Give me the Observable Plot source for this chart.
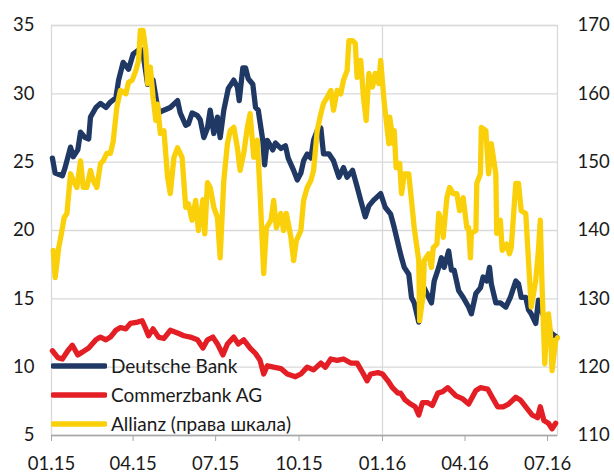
<!DOCTYPE html>
<html><head><meta charset="utf-8">
<script src="https://cdn.jsdelivr.net/npm/d3@7"></script>
<script src="https://cdn.jsdelivr.net/npm/@observablehq/plot@0.6"></script>
<style>
body{margin:0;background:#fff;font-family:Lato,sans-serif;}
#wrap{position:relative;width:614px;height:473px;}
#legend{position:absolute;left:51px;top:351px;font:19px Lato,sans-serif;color:#1a1a1a;}
#legend .row{display:flex;align-items:center;height:29px;}
#legend svg{margin-right:4px;}
</style></head>
<body><div id="wrap"><div id="legend"></div></div>
<script>
// Series: [days since 2015-01-01, value]
const deutscheBank = [[1,25.3],[4,24.2],[12,24.0],[15,24.6],[21,26.1],[24,25.4],[29,25.9],[32,27.2],[37,26.8],[41,26.7],[43,28.3],[49,29.0],[54,29.3],[60,29.0],[65,29.4],[71,29.7],[74,31.0],[79,32.3],[85,31.8],[90,32.9],[98,33.3],[101,32.9],[106,30.7],[112,31.0],[118,28.6],[124,28.8],[131,29.0],[139,29.5],[142,28.6],[148,27.7],[151,27.8],[155,28.6],[161,28.4],[164,28.1],[168,26.8],[172,27.5],[175,28.8],[179,27.1],[183,28.3],[186,26.8],[190,28.8],[195,30.4],[201,31.0],[205,30.5],[207,29.5],[211,31.9],[214,31.9],[217,31.1],[222,30.7],[225,29.0],[228,28.8],[233,26.6],[235,24.8],[238,26.6],[244,25.9],[247,26.4],[253,26.0],[258,26.2],[261,25.3],[267,24.4],[271,23.7],[275,24.2],[278,25.1],[282,25.6],[286,25.3],[289,26.6],[293,27.3],[297,27.5],[300,25.6],[306,25.6],[311,25.1],[317,23.9],[322,24.6],[326,23.9],[332,24.4],[337,23.2],[341,22.2],[346,21.0],[350,21.8],[355,22.2],[363,22.7],[368,21.7],[374,21.2],[378,20.2],[383,18.8],[386,18.0],[389,17.3],[394,16.8],[397,15.1],[400,14.7],[405,13.3],[408,15.6],[411,15.8],[416,15.1],[419,14.7],[422,16.3],[427,17.3],[430,18.0],[433,17.3],[438,18.5],[441,17.1],[444,17.1],[449,15.6],[454,15.1],[460,14.4],[463,13.9],[468,15.4],[473,15.8],[476,16.6],[480,16.3],[483,17.3],[485,16.1],[490,14.7],[495,14.7],[501,14.4],[506,15.1],[512,16.3],[515,16.1],[518,15.1],[523,15.1],[526,14.2],[529,13.9],[534,13.2],[537,14.9],[540,14.2],[545,13.4],[548,12.9],[551,12.5],[557,12.2]];
const commerzbank = [[1,11.2],[7,10.7],[12,10.6],[18,11.2],[23,11.6],[29,10.9],[34,11.1],[41,11.4],[49,12.0],[54,12.2],[60,12.0],[65,12.2],[71,12.7],[76,12.9],[82,12.8],[87,13.2],[95,13.3],[100,13.4],[104,12.8],[107,12.3],[112,12.8],[118,12.2],[124,12.1],[131,12.7],[139,12.5],[146,12.3],[153,12.2],[161,12.0],[167,11.4],[172,12.0],[178,12.2],[183,11.7],[189,10.9],[194,11.7],[201,12.2],[206,11.7],[212,12.0],[219,11.4],[225,11.0],[230,10.5],[234,9.5],[238,10.1],[245,10.0],[253,9.9],[260,9.5],[269,9.3],[275,9.5],[282,10.0],[289,9.8],[297,10.3],[302,10.0],[308,10.6],[315,10.5],[322,10.6],[330,10.3],[337,10.3],[344,9.5],[348,9.0],[352,9.5],[360,9.6],[365,9.5],[371,9.0],[376,8.5],[382,8.1],[385,8.1],[390,7.6],[396,7.3],[401,7.1],[405,6.5],[409,7.4],[415,7.4],[420,7.2],[426,8.1],[431,8.2],[437,8.5],[440,8.3],[446,7.9],[453,7.7],[460,7.3],[468,8.3],[473,8.5],[481,8.4],[486,7.8],[492,7.1],[498,7.1],[504,7.3],[512,7.8],[517,7.6],[523,7.1],[530,6.5],[536,6.3],[539,7.1],[543,6.1],[548,5.9],[552,5.5],[556,5.9]];
// Allianz, right scale (110–170)
const allianz = [[2,137.1],[4,133.1],[8,137.5],[11,139.6],[14,141.9],[17,142.5],[21,148.3],[24,147.3],[28,146.3],[32,150.2],[35,146.3],[39,146.3],[43,148.8],[46,147.3],[50,146.3],[54,149.8],[57,150.2],[61,151.3],[65,151.3],[68,153.0],[72,158.0],[76,160.5],[82,160.0],[85,161.7],[89,162.0],[93,163.4],[96,164.9],[98,169.3],[101,169.3],[104,166.3],[106,161.5],[109,163.9],[112,159.5],[115,156.1],[117,158.5],[120,154.2],[124,154.6],[128,147.8],[131,145.4],[135,150.7],[139,152.1],[144,150.7],[148,143.4],[151,143.9],[155,141.5],[159,144.4],[162,140.0],[167,144.5],[169,139.5],[172,147.0],[175,146.3],[179,143.4],[183,141.9],[186,136.0],[190,147.3],[194,152.7],[197,154.6],[201,155.1],[205,152.1],[208,148.8],[212,151.3],[216,155.1],[219,157.1],[223,150.7],[227,153.2],[230,145.4],[234,133.7],[237,140.4],[242,141.5],[245,144.4],[248,140.4],[253,142.5],[256,140.0],[259,142.5],[264,139.0],[267,135.6],[270,138.5],[275,140.0],[278,144.4],[282,146.3],[286,147.3],[289,148.8],[293,154.6],[297,157.1],[300,158.6],[304,159.5],[308,160.5],[311,157.6],[315,160.5],[319,160.0],[322,162.0],[326,163.4],[328,167.8],[332,167.8],[335,167.4],[337,162.4],[341,164.9],[344,159.5],[347,156.1],[350,163.0],[354,161.0],[357,163.0],[361,161.5],[363,164.9],[367,158.6],[372,152.7],[373,156.6],[377,152.7],[378,154.6],[380,149.2],[384,149.8],[386,145.4],[389,148.3],[394,148.3],[397,144.4],[400,140.4],[405,135.6],[406,126.8],[410,130.8],[411,135.6],[416,136.6],[419,134.6],[421,137.5],[425,138.0],[427,142.5],[430,141.5],[432,139.0],[436,144.8],[439,146.3],[443,145.4],[447,145.4],[450,142.9],[454,144.8],[458,140.4],[460,140.4],[462,136.0],[463,139.6],[468,140.0],[469,146.9],[473,148.3],[474,155.1],[479,154.6],[482,148.3],[485,152.7],[490,148.3],[491,139.6],[495,141.5],[497,137.1],[502,138.0],[505,136.6],[507,137.5],[512,146.9],[515,146.9],[518,142.9],[523,142.5],[526,135.6],[529,128.8],[534,132.7],[537,137.1],[539,141.5],[541,131.7],[544,120.5],[546,126.8],[548,127.8],[550,125.4],[552,119.5],[556,123.9],[558,124.3]];

const leftTicks = [5,10,15,20,25,30,35];
const quarterLabels = ["2015-01-01","2015-04-01","2015-07-01","2015-10-01","2016-01-01","2016-04-01","2016-07-01"];
const seriesNames = ["Deutsche Bank","Commerzbank AG","Allianz (права шкала)"];
const seriesColors = ["#203864","#e31e24","#fad00a"];

const base = Date.UTC(2015,0,1);
const toDate = d => new Date(base + d*864e5);
const rightToLeft = r => 5 + (r - 110) / 2;
const leftToRight = v => 110 + (v - 5) * 2;

const rows = [];
deutscheBank.forEach(([d,v]) => rows.push({date: toDate(d), value: v, s: seriesNames[0]}));
commerzbank.forEach(([d,v]) => rows.push({date: toDate(d), value: v, s: seriesNames[1]}));
allianz.forEach(([d,v]) => rows.push({date: toDate(d), value: rightToLeft(v), s: seriesNames[2]}));

const qDates = quarterLabels.map(s => new Date(s + "T00:00:00Z"));
const fmt = d3.utcFormat("%m.%y");

const chart = Plot.plot({
  width: 614, height: 473,
  marginTop: 25, marginBottom: 38, marginLeft: 51, marginRight: 57,
  style: {fontFamily: "Lato, sans-serif", fontSize: "18.5px", color: "#1a1a1a", background: "#fff"},
  x: {type: "utc", domain: [toDate(0), toDate(558)]},
  y: {domain: [5, 35]},
  color: {domain: seriesNames, range: seriesColors},
  marks: [
    Plot.gridY(leftTicks, {stroke: "#d9d9d9", strokeOpacity: 1, strokeWidth: 1.3}),
    Plot.gridX([qDates[4]], {stroke: "#d9d9d9", strokeOpacity: 1, strokeWidth: 1.3}),
    Plot.frame({stroke: "#d9d9d9", strokeWidth: 1.3}),
    Plot.line(rows, {x: "date", y: "value", z: "s", stroke: "s", strokeWidth: 5.3, strokeLinejoin: "round", strokeLinecap: "round"}),
    Plot.ruleY([5], {stroke: "#a6a6a6", strokeWidth: 1.3}),
    Plot.axisY(leftTicks, {anchor: "left", tickSize: 0, tickPadding: 17, label: null, fontSize: 18.5}),
    Plot.axisY(leftTicks, {anchor: "right", tickSize: 0, tickPadding: 20, label: null, fontSize: 18.5, tickFormat: leftToRight}),
    Plot.axisX(qDates, {anchor: "bottom", tickSize: 6, tickPadding: 15, stroke: "#a6a6a6", label: null, fontSize: 18.5, tickFormat: fmt})
  ]
});
const wrap = document.getElementById("wrap");
wrap.insertBefore(chart, wrap.firstChild);

const legend = document.getElementById("legend");
seriesNames.forEach((n, i) => {
  const row = document.createElement("div");
  row.className = "row";
  row.innerHTML = `<svg width="56" height="8"><line x1="2" y1="4" x2="54" y2="4" stroke="${seriesColors[i]}" stroke-width="5.3" stroke-linecap="round"/></svg><span>${n}</span>`;
  legend.appendChild(row);
});
</script></body></html>
